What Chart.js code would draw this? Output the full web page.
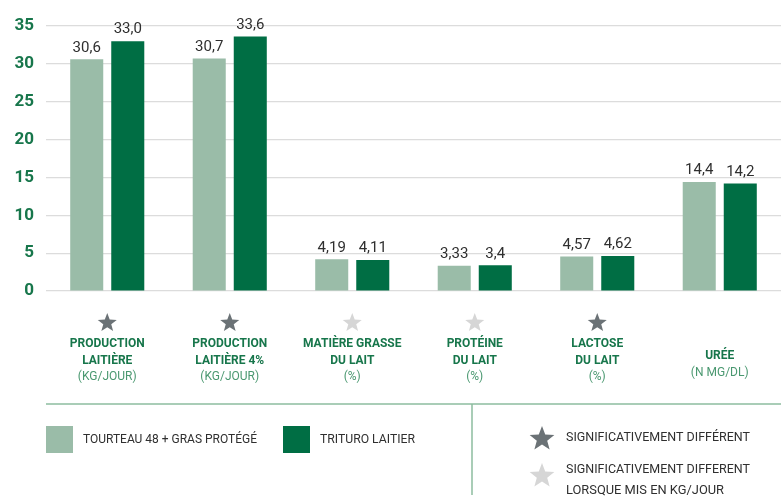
<!DOCTYPE html>
<html lang="fr">
<head>
    <meta charset="UTF-8">
    <title>Tourteau 48 + gras protégé vs Trituro Laitier</title>
    <script src="https://cdn.jsdelivr.net/npm/chart.js"></script>
    <style>
        body { margin: 0; background: #fff; }
        .chart-box { position: relative; width: 781px; height: 498px; }
    </style>
</head>
<body>
    <div class="chart-box">
        <canvas id="laitChart"></canvas>
    </div>

    <script>
        // categories: [bold lines..., unit line]
        const categories = [
            ['PRODUCTION', 'LAITIÈRE', '(KG/JOUR)'],
            ['PRODUCTION', 'LAITIÈRE 4%', '(KG/JOUR)'],
            ['MATIÈRE GRASSE', 'DU LAIT', '(%)'],
            ['PROTÉINE', 'DU LAIT', '(%)'],
            ['LACTOSE', 'DU LAIT', '(%)'],
            ['URÉE', '(N MG/DL)']
        ];
        // 'dark' = significativement différent, 'light' = en kg/jour, null = none
        const stars = ['dark', 'dark', 'light', 'light', 'dark', null];

        const tourteauLabels = ['30,6', '30,7', '4,19', '3,33', '4,57', '14,4'];
        const trituroLabels = ['33,0', '33,6', '4,11', '3,4', '4,62', '14,2'];
        const tourteauValues = tourteauLabels.map(s => parseFloat(s.replace(',', '.')));
        const trituroValues = trituroLabels.map(s => parseFloat(s.replace(',', '.')));

        const seriesNames = ['TOURTEAU 48 + GRAS PROTÉGÉ', 'TRITURO LAITIER'];
        const starNotes = ['SIGNIFICATIVEMENT DIFFÉRENT', 'SIGNIFICATIVEMENT DIFFERENT', 'LORSQUE MIS EN KG/JOUR'];

        const lightGreen = '#9abca8';
        const darkGreen = '#006e44';
        const textGreen = '#17764b';
        const starDark = '#6b7276';
        const starLight = '#d6d6d6';
        const FONT = 'Roboto, "DejaVu Sans", sans-serif';

        function drawStar(ctx, cx, cy, r, color) {
            const inner = r * 0.42;
            ctx.beginPath();
            for (let i = 0; i < 10; i++) {
                const rad = i % 2 === 0 ? r : inner;
                const a = -Math.PI / 2 + i * Math.PI / 5;
                const px = cx + rad * Math.cos(a);
                const py = cy + rad * Math.sin(a);
                if (i === 0) ctx.moveTo(px, py); else ctx.lineTo(px, py);
            }
            ctx.closePath();
            ctx.fillStyle = color;
            ctx.fill();
        }

        // value labels above bars
        const valueLabels = {
            id: 'valueLabels',
            afterDatasetsDraw(chart) {
                const ctx = chart.ctx;
                const texts = [tourteauLabels, trituroLabels];
                ctx.save();
                ctx.font = '15px ' + FONT;
                ctx.fillStyle = '#2f2f2f';
                ctx.textAlign = 'center';
                ctx.textBaseline = 'bottom';
                chart.data.datasets.forEach((ds, di) => {
                    chart.getDatasetMeta(di).data.forEach((bar, i) => {
                        ctx.fillText(texts[di][i], bar.x, bar.y - 4);
                    });
                });
                ctx.restore();
            }
        };

        // stars, category names and bottom legend
        const decorations = {
            id: 'decorations',
            afterDraw(chart) {
                const ctx = chart.ctx;
                const x = chart.scales.x;
                ctx.save();
                ctx.textAlign = 'center';
                ctx.textBaseline = 'middle';
                categories.forEach((lines, i) => {
                    const cx = x.getPixelForValue(i);
                    if (stars[i]) drawStar(ctx, cx, 323, 10, stars[i] === 'dark' ? starDark : starLight);
                    const bold = lines.slice(0, -1);
                    const unit = lines[lines.length - 1];
                    let y = bold.length === 1 ? 356 : 344;
                    ctx.fillStyle = textGreen;
                    ctx.font = 'bold 12px ' + FONT;
                    bold.forEach(t => { ctx.fillText(t, cx, y); y += 16.5; });
                    ctx.fillStyle = '#4a9870';
                    ctx.font = '12px ' + FONT;
                    ctx.fillText(unit, cx, y);
                });

                // legend frame
                ctx.strokeStyle = '#8dbda0';
                ctx.lineWidth = 1.5;
                ctx.beginPath();
                ctx.moveTo(46, 404);
                ctx.lineTo(781, 404);
                ctx.moveTo(472, 404);
                ctx.lineTo(472, 495);
                ctx.stroke();

                ctx.textAlign = 'left';
                ctx.fillStyle = lightGreen;
                ctx.fillRect(46, 426, 27, 27);
                ctx.fillStyle = darkGreen;
                ctx.fillRect(283, 426, 27, 27);

                ctx.font = '13px ' + FONT;
                ctx.fillStyle = '#2f2f2f';
                ctx.fillText(seriesNames[0], 83, 440, 174);
                ctx.fillText(seriesNames[1], 320, 440, 95);

                drawStar(ctx, 542, 439, 13, starDark);
                drawStar(ctx, 542, 476, 13, starLight);
                ctx.fillStyle = '#2f2f2f';
                ctx.fillText(starNotes[0], 566, 438, 184);
                ctx.fillText(starNotes[1], 566, 470, 184);
                ctx.fillText(starNotes[2], 566, 491, 158);
                ctx.restore();
            }
        };

        new Chart(document.getElementById('laitChart'), {
            type: 'bar',
            data: {
                labels: categories.map(c => c.join(' ')),
                datasets: [
                    {
                        label: seriesNames[0],
                        data: tourteauValues,
                        backgroundColor: lightGreen,
                        categoryPercentage: 0.67,
                        barPercentage: 0.805
                    },
                    {
                        label: seriesNames[1],
                        data: trituroValues,
                        backgroundColor: darkGreen,
                        categoryPercentage: 0.67,
                        barPercentage: 0.805
                    }
                ]
            },
            options: {
                responsive: true,
                maintainAspectRatio: false,
                animation: false,
                layout: { padding: { top: 26, right: 0, bottom: 207, left: 0 } },
                plugins: {
                    legend: { display: false },
                    tooltip: { enabled: false }
                },
                scales: {
                    x: {
                        display: false
                    },
                    y: {
                        min: 0,
                        max: 35,
                        ticks: {
                            stepSize: 5,
                            padding: 12,
                            color: textGreen,
                            font: { family: FONT, size: 17, weight: 'bold' }
                        },
                        grid: { color: '#dcdcdc', lineWidth: 1.2, drawTicks: false },
                        border: { display: false },
                        afterFit(scale) { scale.width = 46; }
                    }
                }
            },
            plugins: [valueLabels, decorations]
        });
    </script>
</body>
</html>
